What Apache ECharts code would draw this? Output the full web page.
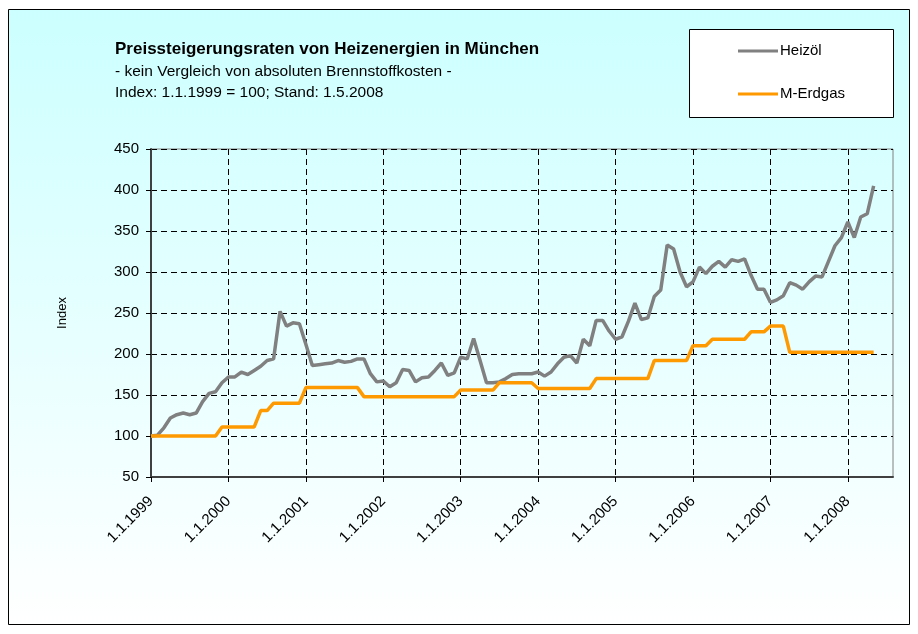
<!DOCTYPE html>
<html>
<head>
<meta charset="utf-8">
<title>Preissteigerungsraten von Heizenergien in München</title>
<script src="https://cdn.jsdelivr.net/npm/echarts@6/dist/echarts.min.js"></script>
<style>
  html, body { margin: 0; padding: 0; background: #fff; }
  #chart { width: 918px; height: 634px; }
</style>
</head>
<body>
<div id="chart"></div>
<script>
// tick labels on the x axis (every 1st of January)
const yearLabels = ['1.1.1999', '1.1.2000', '1.1.2001', '1.1.2002', '1.1.2003',
  '1.1.2004', '1.1.2005', '1.1.2006', '1.1.2007', '1.1.2008'];

// monthly values from 1.1.1999
const heizoel = [
  100, 101, 110, 122, 126, 128, 126, 128, 142, 152, 154, 165,
  172, 172, 178, 175, 180, 185, 192, 194, 252, 234, 238, 237,
  212, 186, 187, 188, 189, 192, 190, 191, 194, 194, 176, 166,
  167, 160, 165, 181, 180, 166, 171, 172, 180, 189, 174, 177,
  196, 194, 219, 192, 165, 165, 166, 170, 175, 176, 176, 176,
  178, 173, 178, 188, 196, 198, 189, 218, 210, 241, 241, 228,
  218, 221, 240, 262, 242, 244, 270, 278, 333, 328, 300, 282,
  288, 306, 298, 307, 313, 306, 315, 313, 316, 296, 279, 279,
  263, 266, 271, 287, 284, 279, 288, 295, 294, 313, 332, 342,
  361, 342, 367, 371, 405
];
const erdgas = [
  100, 100, 100, 100, 100, 100, 100, 100, 100, 100, 100, 111,
  111, 111, 111, 111, 111, 131, 131, 140, 140, 140, 140, 140,
  159, 159, 159, 159, 159, 159, 159, 159, 159, 148, 148, 148,
  148, 148, 148, 148, 148, 148, 148, 148, 148, 148, 148, 148,
  156, 156, 156, 156, 156, 156, 165, 165, 165, 165, 165, 165,
  158, 158, 158, 158, 158, 158, 158, 158, 158, 170, 170, 170,
  170, 170, 170, 170, 170, 170, 192, 192, 192, 192, 192, 192,
  210, 210, 210, 218, 218, 218, 218, 218, 218, 227, 227, 227,
  234, 234, 234, 202, 202, 202, 202, 202, 202, 202, 202, 202,
  202, 202, 202, 202, 202
];

// month categories, axis runs a few months past the last value
const months = [];
for (let i = 0; i < 116; i++) {
  months.push(i % 12 === 0 ? yearLabels[i / 12] : String(i));
}

const font = '"Liberation Sans", Arial, sans-serif';
const myChart = echarts.init(document.getElementById('chart'));

const option = {
  animation: false,
  textStyle: { fontFamily: font },
  graphic: [
    {
      type: 'rect',
      z: -10,
      shape: { x: 8.5, y: 9.5, width: 901, height: 615 },
      style: {
        fill: new echarts.graphic.LinearGradient(0, 0, 0, 1, [
          { offset: 0, color: '#ccffff' },
          { offset: 1, color: '#ffffff' }
        ]),
        stroke: '#000',
        lineWidth: 1
      }
    },
    {
      type: 'rect',
      z: 0,
      shape: { x: 689.5, y: 29.5, width: 204, height: 88 },
      style: { fill: '#fff', stroke: '#000', lineWidth: 1 }
    }
  ],
  title: {
    left: 115,
    top: 40,
    padding: 0,
    itemGap: 3,
    text: 'Preissteigerungsraten von Heizenergien in München',
    subtext: '- kein Vergleich von absoluten Brennstoffkosten -\nIndex: 1.1.1999 = 100; Stand: 1.5.2008',
    textStyle: { fontFamily: font, fontSize: 17, fontWeight: 'bold', color: '#000', lineHeight: 18 },
    subtextStyle: { fontFamily: font, fontSize: 15.5, color: '#000', lineHeight: 21 }
  },
  legend: {
    left: 738,
    top: 43,
    orient: 'vertical',
    icon: 'rect',
    itemWidth: 40,
    itemHeight: 3,
    itemGap: 27,
    padding: 0,
    textStyle: { fontFamily: font, fontSize: 15, color: '#000', lineHeight: 16, padding: [0, 0, 0, -3] },
    data: ['Heizöl', 'M-Erdgas']
  },
  grid: {
    left: 151,
    top: 149,
    right: 25,
    bottom: 157,
    show: true,
    borderColor: '#808080',
    borderWidth: 1,
    backgroundColor: 'transparent'
  },
  xAxis: {
    type: 'category',
    data: months,
    boundaryGap: false,
    axisLine: { lineStyle: { color: '#404040', width: 2 } },
    axisTick: { interval: 11, length: 5, lineStyle: { color: '#000' } },
    axisLabel: {
      interval: 11,
      rotate: 45,
      margin: 22,
      fontFamily: font,
      fontSize: 15,
      color: '#000'
    },
    splitLine: {
      show: true,
      interval: 11,
      lineStyle: { color: '#000', type: [6, 4], width: 1 }
    }
  },
  yAxis: {
    type: 'value',
    min: 50,
    max: 450,
    interval: 50,
    name: 'Index',
    nameLocation: 'middle',
    nameRotate: 90,
    nameGap: 82,
    nameTextStyle: { fontFamily: font, fontSize: 13, color: '#000' },
    axisLine: { show: true, lineStyle: { color: '#404040', width: 2 } },
    axisTick: { show: true, length: 5, lineStyle: { color: '#000' } },
    axisLabel: { margin: 12, fontFamily: font, fontSize: 15, color: '#000' },
    splitLine: { lineStyle: { color: '#000', type: [6, 4], width: 1 } }
  },
  series: [
    {
      name: 'Heizöl',
      type: 'line',
      data: heizoel,
      symbol: 'none',
      color: '#808080',
      lineStyle: { color: '#808080', width: 3.5 }
    },
    {
      name: 'M-Erdgas',
      type: 'line',
      data: erdgas,
      symbol: 'none',
      color: '#ff9900',
      lineStyle: { color: '#ff9900', width: 3.5 }
    }
  ]
};

myChart.setOption(option);
window.addEventListener('resize', () => {
  myChart.resize();
});
</script>
</body>
</html>
